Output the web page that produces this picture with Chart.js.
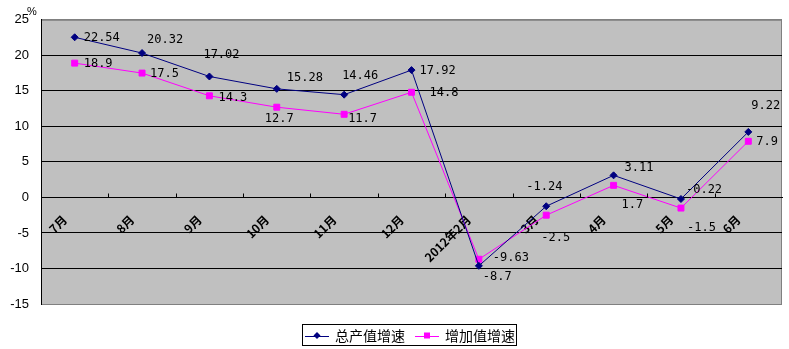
<!DOCTYPE html>
<html>
<head>
<meta charset="utf-8">
<script src="https://cdn.jsdelivr.net/npm/chart.js@4/dist/chart.umd.min.js"></script>
<style>
  html, body { margin: 0; padding: 0; background: #fff; }
  #wrap { width: 789px; height: 349px; position: relative; }
</style>
</head>
<body>
<div id="wrap"><canvas id="c"></canvas></div>
<script>
// data
const categories = ['7月', '8月', '9月', '10月', '11月', '12月', '2012年2月', '3月', '4月', '5月', '6月'];
const grossGrowth = [22.54, 20.32, 17.02, 15.28, 14.46, 17.92, -9.63, -1.24, 3.11, -0.22, 9.22];
const addedGrowth = [18.9, 17.5, 14.3, 12.7, 11.7, 14.8, -8.7, -2.5, 1.7, -1.5, 7.9];
const seriesNames = ['总产值增速', '增加值增速'];
const yMin = -15, yMax = 25, yStep = 5;
const unitLabel = '%';

// label nudges (dx, dy from the point), as Excel placed them
const grossLabelShift = [[9, 1], [5, -13], [-6, -22], [10, -11], [-2, -19], [8, 1], [14, -8], [-20, -19], [11, -7], [5, -9], [3, -26]];
const addedLabelShift = [[9, 1], [8, 1], [9, 2], [-12, 12], [4, 5], [18, 1], [4, 18], [-5, 23], [8, 20], [6, 20], [8, 1]];

const plotBg = {
  id: 'plotBg',
  beforeDraw(chart) {
    const { ctx, chartArea: a } = chart;
    ctx.save();
    ctx.fillStyle = '#c0c0c0';
    ctx.fillRect(a.left, a.top, a.right - a.left, a.bottom - a.top);
    ctx.strokeStyle = '#808080';
    ctx.lineWidth = 1;
    ctx.strokeRect(a.left + 0.5, a.top + 0.5, a.right - a.left - 1, a.bottom - a.top);
    ctx.restore();
  },
  afterDraw(chart) {
    const { ctx } = chart;
    const x = chart.scales.x, y = chart.scales.y;
    const y0 = Math.round(y.getPixelForValue(0)) + 0.5;
    const step = (x.getPixelForValue(1) - x.getPixelForValue(0));
    ctx.save();
    ctx.strokeStyle = '#000';
    ctx.lineWidth = 1;
    ctx.beginPath();
    for (let i = 0; i < categories.length - 1; i++) {
      const px = Math.round(x.getPixelForValue(i) + step / 2) + 0.5;
      ctx.moveTo(px, y0);
      ctx.lineTo(px, y0 - 4);
    }
    ctx.stroke();
    // unit mark above the y axis
    ctx.fillStyle = '#000';
    ctx.font = '11px "Liberation Sans", Arial, sans-serif';
    ctx.textAlign = 'left';
    ctx.textBaseline = 'top';
    ctx.fillText(unitLabel, 27, 6);
    ctx.restore();
  }
};

const pointLabels = {
  id: 'pointLabels',
  afterDatasetsDraw(chart) {
    const { ctx } = chart;
    const shifts = [grossLabelShift, addedLabelShift];
    ctx.save();
    ctx.font = '12px "DejaVu Sans Mono", monospace';
    ctx.fillStyle = '#000';
    ctx.textAlign = 'left';
    ctx.textBaseline = 'middle';
    chart.data.datasets.forEach((ds, di) => {
      const meta = chart.getDatasetMeta(di);
      meta.data.forEach((pt, i) => {
        const [dx, dy] = shifts[di][i];
        ctx.fillText(String(ds.data[i]), pt.x + dx, pt.y + dy);
      });
    });
    ctx.restore();
  }
};

const boxLegend = {
  id: 'boxLegend',
  afterDraw(chart) {
    const { ctx } = chart;
    const left = 302, top = 324, w = 214, h = 21;
    ctx.save();
    ctx.strokeStyle = '#000';
    ctx.lineWidth = 1;
    ctx.strokeRect(left + 0.5, top + 0.5, w, h);
    ctx.font = '14px "Noto Sans CJK SC", sans-serif';
    ctx.textBaseline = 'middle';
    ctx.textAlign = 'left';
    const cy = top + h / 2 + 1;
    const items = [
      { x: 305, ds: chart.data.datasets[0], shape: 'diamond' },
      { x: 415, ds: chart.data.datasets[1], shape: 'square' }
    ];
    items.forEach(it => {
      ctx.strokeStyle = it.ds.borderColor;
      ctx.fillStyle = it.ds.borderColor;
      ctx.beginPath();
      ctx.moveTo(it.x, Math.round(cy) + 0.5);
      ctx.lineTo(it.x + 24, Math.round(cy) + 0.5);
      ctx.stroke();
      const mx = it.x + 12;
      ctx.beginPath();
      if (it.shape === 'diamond') {
        ctx.moveTo(mx, cy - 3.5); ctx.lineTo(mx + 3.5, cy);
        ctx.lineTo(mx, cy + 3.5); ctx.lineTo(mx - 3.5, cy);
        ctx.closePath();
      } else {
        ctx.rect(mx - 3, cy - 3, 6, 6);
      }
      ctx.fill();
      ctx.fillStyle = '#000';
      ctx.fillText(it.ds.label, it.x + 30, cy);
    });
    ctx.restore();
  }
};

new Chart(document.getElementById('c'), {
  type: 'line',
  data: {
    labels: categories,
    datasets: [{
      label: seriesNames[0],
      data: grossGrowth,
      borderColor: '#000080',
      backgroundColor: '#000080',
      borderWidth: 1,
      pointStyle: 'rectRot',
      pointRadius: 3.5,
      pointHoverRadius: 3.5,
      tension: 0
    }, {
      label: seriesNames[1],
      data: addedGrowth,
      borderColor: '#ff00ff',
      backgroundColor: '#ff00ff',
      borderWidth: 1,
      pointStyle: 'rect',
      pointRadius: 4.2,
      pointHoverRadius: 4.2,
      tension: 0
    }]
  },
  options: {
    responsive: true,
    maintainAspectRatio: false,
    animation: false,
    layout: { padding: { left: 0, top: 19, right: 7, bottom: 45 } },
    plugins: { legend: { display: false }, tooltip: { enabled: false } },
    scales: {
      x: {
        position: { y: 0 },
        offset: true,
        afterFit: s => { s.height = 0; },
        grid: { display: true, drawOnChartArea: false, drawTicks: false },
        border: { display: true, color: '#000', width: 1 },
        ticks: {
          autoSkip: false,
          minRotation: 45,
          maxRotation: 45,
          padding: 15,
          labelOffset: -10,
          color: '#000',
          font: { family: '"Noto Sans CJK SC", sans-serif', size: 12, weight: 'bold' }
        }
      },
      y: {
        min: yMin,
        max: yMax,
        afterFit: s => { s.width = 41; },
        grid: {
          drawTicks: false,
          color: c => (c.tick && (c.tick.value === yMin || c.tick.value === yMax)) ? '#808080' : '#000'
        },
        border: { display: true, color: '#000', width: 1 },
        ticks: {
          stepSize: yStep,
          padding: 12,
          color: '#000',
          font: { family: '"Liberation Sans", Arial, sans-serif', size: 13 }
        }
      }
    }
  },
  plugins: [plotBg, pointLabels, boxLegend]
});
</script>
</body>
</html>
